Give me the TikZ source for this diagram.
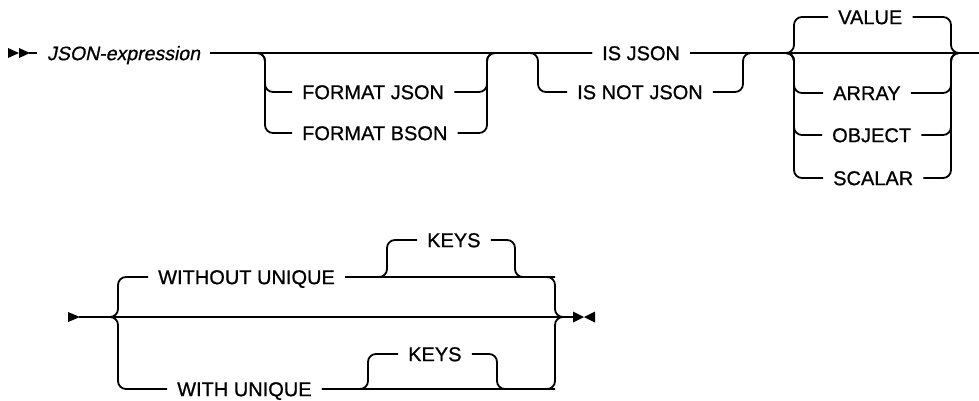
\documentclass[tikz,border=0pt]{standalone}
\usepackage{fontspec}
\setmainfont{Liberation Sans}
\newfontfamily\railfont[FakeBold=0.8]{Liberation Sans}
\newfontfamily\railitfont[FakeBold=0.6,FakeSlant=0.2]{Liberation Sans}
\begin{document}
\begin{tikzpicture}[x=1pt,y=-1pt,
  lbl/.style={inner xsep=10pt, inner ysep=0pt, text height=14.3pt, text depth=0pt,
              font=\railfont\fontsize{20}{20}\selectfont, anchor=west},
  rail/.style={line width=1.8pt, rounded corners=8pt},
  straight/.style={line width=1.8pt},
  tip/.style={fill=black}]
\useasboundingbox (0,0) rectangle (979,400);

% ---------- row 1 ----------
\fill[tip] (8,48) -- (19,53) -- (8,58) -- cycle;
\fill[tip] (19,48) -- (30,53) -- (19,58) -- cycle;
\coordinate (start1) at (29,53);
\coordinate (exit1) at (979,53);
\coordinate (v1) at (265,0);
\coordinate (v2) at (487,0);
\coordinate (v3) at (538,0);
\coordinate (v4) at (743,0);
\coordinate (b1) at (794,0);
\coordinate (b2) at (951,0);

\node[lbl, font=\railitfont\fontsize{19.5}{19.5}\selectfont] (jexpr) at (37,53) {JSON-expression};
\node[lbl] (fj) at (292,92) {FORMAT JSON};
\node[lbl] (fb) at (292,133) {FORMAT BSON};
\node[lbl] (isj) at (592,53) {IS JSON};
\node[lbl] (isnj) at (567,92) {IS NOT JSON};
\node[lbl] (value) at (828,17) {VALUE};
\node[lbl] (array) at (823,93) {ARRAY};
\node[lbl] (object) at (822,135) {OBJECT};
\node[lbl] (scalar) at (823,178) {SCALAR};

\draw[straight] (start1) -- (jexpr.west);
\draw[straight] (jexpr.east) -- (isj.west);
% format branch
\draw[rail] (jexpr.east) -| (v1 |- fb.west) -- (fb.west);
\draw[rail] (jexpr.east) -| (v1 |- fj.west) -- (fj.west);
\draw[rail] (fb.east) -| (v2 |- isj.west) -- (isj.west);
\draw[rail] (fj.east) -| (v2 |- isj.west) -- (isj.west);
% IS NOT JSON branch
\draw[rail] (jexpr.east) -| (v3 |- isnj.west) -- (isnj.west);
\draw[straight] (isj.east) -- (exit1);
\draw[rail] (isnj.east) -| (v4 |- isj.east) -- (b1 |- isj.east);
% value group
\draw[rail] (isj.east) -| (b1 |- value.west) -- (value.west);
\draw[rail] (isj.east) -| (b1 |- array.west) -- (array.west);
\draw[rail] (isj.east) -| (b1 |- object.west) -- (object.west);
\draw[rail] (isj.east) -| (b1 |- scalar.west) -- (scalar.west);
\draw[rail] (value.east) -| (b2 |- exit1) -- (exit1);
\draw[rail] (array.east) -| (b2 |- exit1) -- (exit1);
\draw[rail] (object.east) -| (b2 |- exit1) -- (exit1);
\draw[rail] (scalar.east) -| (b2 |- exit1) -- (exit1);

% ---------- row 2 ----------
\fill[tip] (68,312) -- (80,317) -- (68,322) -- cycle;
\coordinate (start2) at (79,317);
\coordinate (end2) at (574,317);
\fill[tip] (573,311.5) -- (584,317) -- (573,322.5) -- cycle;
\fill[tip] (595,311.5) -- (584,317) -- (595,322.5) -- cycle;
\coordinate (bl) at (118,0);
\coordinate (br) at (555,0);
\coordinate (kl1) at (387,0);
\coordinate (kr1) at (515,0);
\coordinate (kl2) at (368,0);
\coordinate (kr2) at (497,0);

\node[lbl] (wo) at (148,277) {WITHOUT UNIQUE};
\node[lbl] (keys1) at (417,240) {KEYS};
\node[lbl] (wi) at (167,389) {WITH UNIQUE};
\node[lbl] (keys2) at (398,354) {KEYS};

\draw[straight] (start2) -- (end2);
\draw[rail] (start2) -| (bl |- wo.west) -- (wo.west);
\draw[rail] (start2) -| (bl |- wi.west) -- (wi.west);
\draw[rail] (wo.east) -| (br |- end2) -- (end2);
\draw[rail] (wi.east) -| (br |- end2) -- (end2);
\draw[rail] (wo.east) -| (kl1 |- keys1.west) -- (keys1.west);
\draw[rail] (keys1.east) -| (kr1 |- wo.east) -- (br |- wo.east);
\draw[rail] (wi.east) -| (kl2 |- keys2.west) -- (keys2.west);
\draw[rail] (keys2.east) -| (kr2 |- wi.east) -- (br |- wi.east);
\end{tikzpicture}
\end{document}
